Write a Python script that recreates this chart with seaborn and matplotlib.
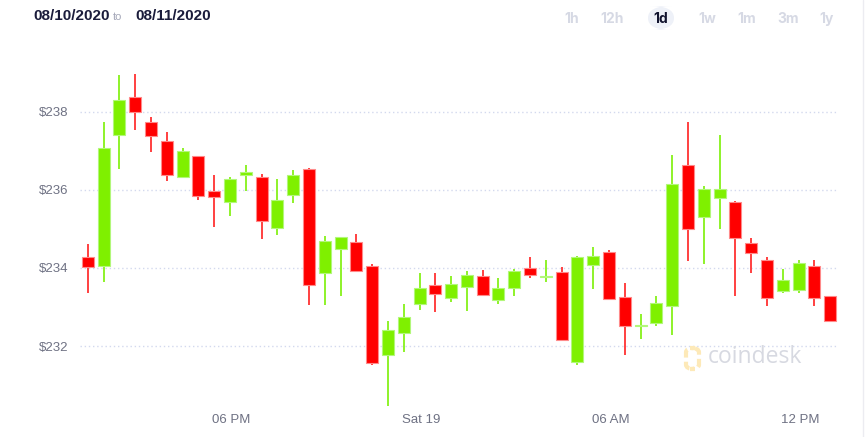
import numpy as np
import pandas as pd
import matplotlib.pyplot as plt
import seaborn as sns
from matplotlib.patches import FancyBboxPatch

# ==========================================
# Data (30 minute candles)
# ==========================================

start_hour = 13.45  # hours after Fri 00:00 for the first candle
opens = [234.27, 234.04, 237.42, 238.39, 237.74, 237.25, 236.34, 236.86, 235.97, 235.70,
         236.38, 236.34, 235.03, 235.86, 236.54, 233.86, 234.48, 234.66, 234.04, 231.76,
         232.33, 233.07, 233.56, 233.24, 233.51, 233.79, 233.19, 233.49, 233.99, 233.76,
         233.89, 231.58, 234.07, 234.41, 233.25, 232.50, 232.59, 233.03, 236.63, 235.30,
         235.79, 235.70, 234.64, 234.21, 233.42, 233.44, 234.06, 233.27]
closes = [234.03, 237.08, 238.30, 238.00, 237.37, 236.37, 237.01, 235.85, 235.82, 236.27,
          236.47, 235.21, 235.74, 236.38, 233.56, 234.70, 234.80, 233.93, 231.57, 232.41,
          232.74, 233.49, 233.33, 233.60, 233.82, 233.32, 233.48, 233.92, 233.81, 233.80,
          232.16, 234.27, 234.31, 233.21, 232.51, 232.55, 233.11, 236.16, 234.99, 236.03,
          236.03, 234.77, 234.38, 233.24, 233.69, 234.13, 233.22, 232.64]
highs = [234.62, 237.73, 238.94, 238.97, 237.88, 237.49, 237.08, 236.86, 236.39, 236.33,
         236.63, 236.42, 236.27, 236.50, 236.55, 234.82, 234.80, 234.88, 234.09, 232.64,
         233.08, 233.87, 233.87, 233.80, 233.92, 233.94, 233.75, 233.97, 234.27, 234.21,
         234.02, 234.30, 234.55, 234.46, 233.62, 232.83, 233.27, 236.89, 237.73, 236.10,
         237.42, 235.72, 234.78, 234.28, 233.97, 234.21, 234.21, 233.27]
lows = [233.35, 233.65, 236.54, 237.53, 236.97, 236.22, 236.34, 235.75, 235.04, 235.32,
        235.97, 234.75, 234.85, 235.66, 233.06, 233.06, 233.27, 233.91, 231.52, 230.47,
        231.85, 232.93, 232.88, 233.12, 232.90, 233.28, 233.08, 233.29, 233.75, 233.65,
        232.16, 231.52, 233.46, 233.21, 231.76, 232.19, 232.51, 232.27, 234.17, 234.10,
        235.01, 233.27, 233.88, 233.03, 233.36, 233.36, 233.03, 232.64]

tick_hours = [18, 24, 30, 36]
tick_labels = ["06 PM", "Sat 19", "06 AM", "12 PM"]
price_ticks = [232, 234, 236, 238]
ranges = ["1h", "12h", "1d", "1w", "1m", "3m", "1y"]
active_range = "1d"

df = pd.DataFrame({"open": opens, "close": closes, "high": highs, "low": lows})
df["hour"] = start_hour + 0.5 * np.arange(len(df))
df["up"] = df["close"] >= df["open"]

# ==========================================
# Style
# ==========================================

sns.set_style("white")
plt.rcParams["font.family"] = ["Inter", "DejaVu Sans"]

green, red = "#7ff000", "#ff0000"
green_edge, red_edge = "#b2f77a", "#ff8a8a"
green_wick, red_wick = "#8ef22a", "#ff4040"

fig = plt.figure(figsize=(8.66, 4.37), dpi=100)
ax = fig.add_axes([80 / 866, 27 / 437, 758 / 866, 350 / 437])

# ==========================================
# Candles
# ==========================================

body_col = np.where(df["up"], green, red)
edge_col = np.where(df["up"], green_edge, red_edge)
wick_col = np.where(df["up"], green_wick, red_wick)

ax.vlines(df["hour"], df["low"], df["high"], colors=wick_col, linewidth=1.4, zorder=2)
ax.bar(df["hour"], df["close"] - df["open"], bottom=df["open"], width=0.38,
       color=body_col, edgecolor=edge_col, linewidth=0.8, zorder=3)

ax.set_xlim(start_hour - 0.25, start_hour + 0.5 * len(df) - 0.25)
ax.set_ylim(230.36, 239.33)

ax.set_yticks(price_ticks)
ax.set_yticklabels([f"${p}" for p in price_ticks], color="#6e7183", fontsize=9.5,
                   family=["Liberation Sans", "DejaVu Sans"])
ax.set_xticks(tick_hours)
ax.set_xticklabels(tick_labels, color="#6e7183", fontsize=9.5,
                   family=["Liberation Sans Narrow", "Liberation Sans", "DejaVu Sans"])
ax.tick_params(length=0)
ax.tick_params(axis="y", pad=8)
ax.tick_params(axis="x", pad=3)
ax.yaxis.grid(True, linestyle=(0, (1, 2)), color="#d3d9ee", linewidth=1, zorder=0)
ax.xaxis.grid(False)
ax.set_axisbelow(True)
sns.despine(ax=ax, left=True, bottom=True)

# ==========================================
# Header, range buttons, watermark
# ==========================================

head_font = ["Liberation Sans", "DejaVu Sans"]
fig.text(33 / 866, 1 - 16 / 437, "08/10/2020", fontsize=11, weight="bold",
         color="#1b1c3b", va="center", family=head_font)
fig.text(113 / 866, 1 - 17 / 437, "to", fontsize=8, color="#a4a7b8", va="center",
         family=head_font)
fig.text(135 / 866, 1 - 16 / 437, "08/11/2020", fontsize=11, weight="bold",
         color="#1b1c3b", va="center", family=head_font)

range_x = [572, 612, 661, 707, 747, 788, 827]
for label, px in zip(ranges, range_x):
    if label == active_range:
        fig.add_artist(FancyBboxPatch(((px - 13) / 866, 1 - 30 / 437), 26 / 866, 24 / 437,
                                      boxstyle="round,pad=0,rounding_size=0.027",
                                      transform=fig.transFigure, facecolor="#eef1f8",
                                      edgecolor="none"))
        col = "#11132e"
    else:
        col = "#d6d9e4"
    fig.text(px / 866, 1 - 19 / 437, label, fontsize=10, weight="bold", color=col,
             ha="center", va="center")

fig.add_artist(FancyBboxPatch((686 / 866, 1 - 369 / 437), 13 / 866, 21 / 437,
                              boxstyle="round,pad=0,rounding_size=0.01",
                              transform=fig.transFigure, facecolor="none",
                              edgecolor="#fde9b8", linewidth=3, linestyle=(0, (2, 1))))
fig.text(708 / 866, 1 - 357 / 437, "coindesk", fontsize=16.5, color="#d7d9e1",
         va="center", family=["Open Sans", "DejaVu Sans"])

fig.add_artist(plt.Line2D([863 / 866, 863 / 866], [0, 1], transform=fig.transFigure,
                          color="#ececf1", linewidth=1))

plt.savefig("out.png", dpi=100)
plt.close()
